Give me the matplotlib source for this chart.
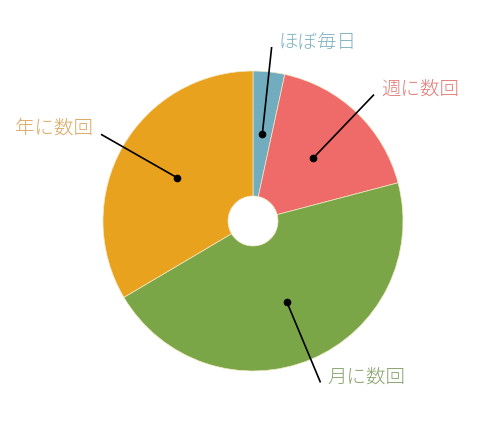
import numpy as np
import matplotlib
matplotlib.use("Agg")
import matplotlib.pyplot as plt

plt.rcParams['font.family'] = ['Noto Sans CJK JP', 'DejaVu Sans']

categories = ["ほぼ毎日", "週に数回", "月に数回", "年に数回"]
values = [3.4, 17.5, 45.6, 33.5]
slice_colors = ["#72adbf", "#ef6b69", "#7ba647", "#e8a21e"]
label_colors = ["#80b2c1", "#e27b79", "#86a26c", "#dca75f"]

W, H = 493, 427
fig = plt.figure(figsize=(W / 100, H / 100), dpi=100)
ax = fig.add_axes([0, 0, 1, 1])

cx, cy = 253, H - 222
R = 150
hole = 25

wedges, _ = ax.pie(values, colors=slice_colors, startangle=90, counterclock=False,
                   radius=R, center=(cx, cy),
                   wedgeprops=dict(width=R - hole, edgecolor="#f3e9c8", linewidth=0.5))
ax.set_aspect('auto')
ax.set_xlim(0, W)
ax.set_ylim(0, H)
ax.axis('off')

r_in = (R + hole) / 2
r_out = 175
for w, lab, lc in zip(wedges, categories, label_colors):
    mid = np.deg2rad((w.theta1 + w.theta2) / 2)
    x0, y0 = cx + r_in * np.cos(mid), cy + r_in * np.sin(mid)
    x1, y1 = cx + r_out * np.cos(mid), cy + r_out * np.sin(mid)
    ax.plot([x0, x1], [y0, y1], color="black", lw=1.2, solid_capstyle='butt')
    ax.plot([x0], [y0], 'o', color="black", markersize=4.5)
    if np.cos(mid) >= 0:
        ax.text(x1 + 7, y1 + 6, lab, color=lc, fontsize=14, fontweight='light',
                ha='left', va='center')
    else:
        ax.text(x1 - 8, y1 + 7, lab, color=lc, fontsize=14, fontweight='light',
                ha='right', va='center')

fig.savefig("out.png", dpi=100)
